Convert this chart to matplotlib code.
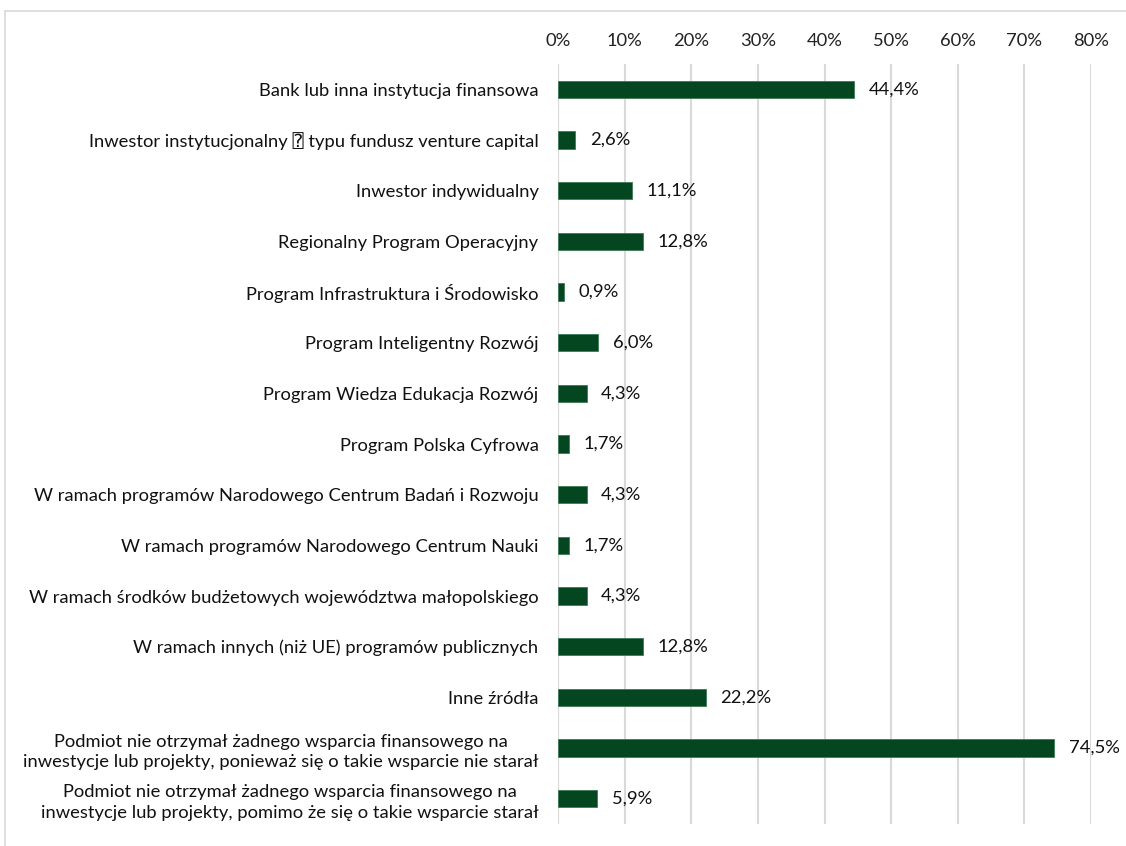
import matplotlib
matplotlib.use("Agg")
import matplotlib.pyplot as plt
from matplotlib.lines import Line2D

categories = [
    "Bank lub inna instytucja finansowa",
    "Inwestor instytucjonalny \u2370 typu fundusz venture capital",
    "Inwestor indywidualny",
    "Regionalny Program Operacyjny",
    "Program Infrastruktura i Środowisko",
    "Program Inteligentny Rozwój",
    "Program Wiedza Edukacja Rozwój",
    "Program Polska Cyfrowa",
    "W ramach programów Narodowego Centrum Badań i Rozwoju",
    "W ramach programów Narodowego Centrum Nauki",
    "W ramach środków budżetowych województwa małopolskiego",
    "W ramach innych (niż UE) programów publicznych",
    "Inne źródła",
    "Podmiot nie otrzymał żadnego wsparcia finansowego na\ninwestycje lub projekty, ponieważ się o takie wsparcie nie starał",
    "Podmiot nie otrzymał żadnego wsparcia finansowego na\ninwestycje lub projekty, pomimo że się o takie wsparcie starał",
]
values = [44.4, 2.6, 11.1, 12.8, 0.9, 6.0, 4.3, 1.7, 4.3, 1.7, 4.3, 12.8, 22.2, 74.5, 5.9]
xticks = [0, 10, 20, 30, 40, 50, 60, 70, 80]

FONT = ["Lato", "DejaVu Sans", "DejaVu Sans Mono"]
plt.rcParams["font.family"] = FONT
FS = 13.2

W, H = 1126, 846
fig = plt.figure(figsize=(W / 100, H / 100), dpi=100)
ax = fig.add_axes([558 / W, 1 - 824 / H, (1091 - 558) / W, (824 - 64) / H])

n = len(categories)
ypos = list(range(n))
ax.barh(ypos, values, height=0.34, color="#03461F", edgecolor="#3d7a55", linewidth=0.6, zorder=3)
ax.set_ylim(n - 0.5, -0.5)
ax.set_xlim(0, 80)
ax.set_xticks(xticks)
ax.set_xticklabels([f"{t}%" for t in xticks], fontsize=FS, color="#222222")
ax.xaxis.tick_top()
ax.tick_params(axis="x", length=0, pad=11)
ax.tick_params(axis="y", length=0, pad=14)
ax.set_yticks(ypos)
ax.set_yticklabels(categories, fontsize=FS, color="#111111", multialignment="center", linespacing=1.35)
ax.grid(axis="x", color="#d9d9d9", linewidth=1.5, zorder=0)
for s in ax.spines.values():
    s.set_visible(False)
ax.axvline(0, color="#d9d9d9", linewidth=1.5, zorder=1)

for y, v in zip(ypos, values):
    ax.annotate(f"{v:.1f}%".replace(".", ","), xy=(v, y), xytext=(10.5, 0),
                textcoords="offset points", va="center", ha="left",
                fontsize=FS, color="#111111")

# outer frame (cropped at right and bottom)
fig.add_artist(Line2D([5 / W, 1], [1 - 11 / H, 1 - 11 / H], color="#d9d9d9", linewidth=1.2))
fig.add_artist(Line2D([5 / W, 5 / W], [0, 1 - 11 / H], color="#d9d9d9", linewidth=1.2))

fig.savefig("out.png", dpi=100)
